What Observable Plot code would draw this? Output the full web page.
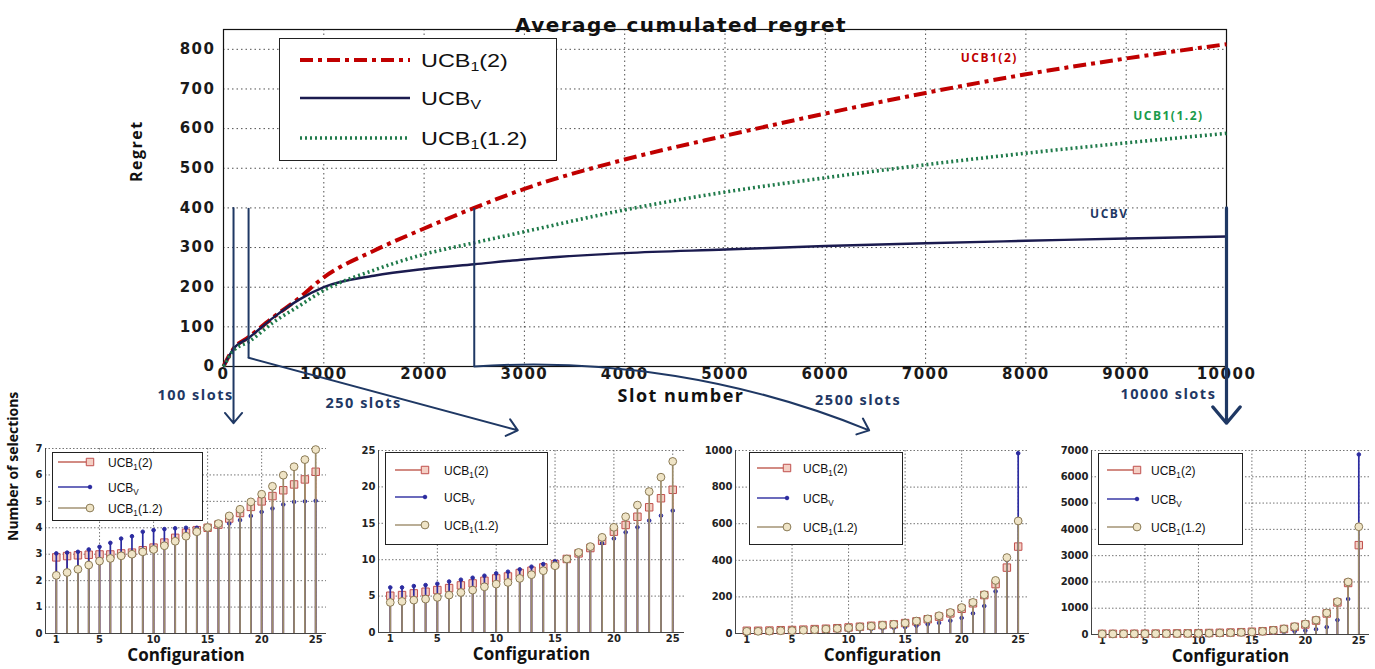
<!DOCTYPE html>
<html>
<head>
<meta charset="utf-8">
<script src="https://cdn.jsdelivr.net/npm/d3@7"></script>
<script src="https://cdn.jsdelivr.net/npm/@observablehq/plot@0.6"></script>
<style>
  body { margin: 0; background: #fff; }
  #wrap { position: relative; width: 1375px; height: 669px; overflow: hidden; background: #fff; }
  #wrap svg { position: absolute; background: transparent; max-width: none; }
  .legend { position: absolute; background: #fff; border: 1px solid #222; box-sizing: border-box; }
  .legend .lt { position: absolute; white-space: nowrap; line-height: 1; color: #111; transform-origin: left center; }
  .legend sub { font-size: 68%; vertical-align: -0.35em; line-height: 0; }
</style>
</head>
<body>
<div id="wrap"></div>
<script>
// ---------------- DATA ----------------
// Main chart: average cumulated regret vs slot number
const slots = [0, 100, 250, 500, 750, 1000, 1500, 2000, 2500, 3000, 4000, 5000, 6000, 7000, 8000, 9000, 10000];
const regretUCB1_2  = [0, 45, 74, 125, 172, 225, 292, 348, 400, 448, 522, 582, 638, 690, 737, 777, 813];
const regretUCBV    = [0, 45, 72, 124, 168, 200, 229, 246, 258, 270, 286, 295, 304, 311, 317, 323, 328];
const regretUCB1_12 = [0, 40, 62, 112, 152, 192, 243, 283, 312, 340, 395, 440, 476, 509, 538, 564, 588];
const mainXTicks = [0, 1000, 2000, 3000, 4000, 5000, 6000, 7000, 8000, 9000, 10000];
const mainYTicks = [0, 100, 200, 300, 400, 500, 600, 700, 800];

// Series names (base, subscript, tail)
const seriesBase = ["UCB", "UCB", "UCB"];
const seriesSub  = ["1", "V", "1"];
const seriesTail = ["(2)", "", "(1.2)"];
// Inline curve labels (data coordinates)
const curveLabelText = ["UCB1(2)", "UCB1(1.2)", "UCBV"];
const curveLabelX = [7635, 9421, 8832];
const curveLabelY = [777, 631, 385];

// Zoom annotations (data coordinates of the main chart)
const zoomLabelText = ["100 slots", "250 slots", "2500 slots", "10000 slots"];
const zoomLabelX = [-279, 1397, 6327, 9421];
const zoomLabelY = [-73, -93, -86, -70];
const connectorLinks = [
  {x1: 250, y1: 400, x2: 250, y2: 22},
  {x1: 2500, y1: 400, x2: 2500, y2: 0}
];
const connectorArrows = [
  {x1: 100, y1: 400, x2: 100, y2: -143},
  {x1: 250, y1: 22, x2: 2934, y2: -161}
];
const connectorCurved = [{x1: 2500, y1: 0, x2: 6437, y2: -161}];
const connectorThick = [{x1: 10000, y1: 400, x2: 10000, y2: -143}];

// Bottom charts: number of selections per configuration
const configs = [1, 2, 3, 4, 5, 6, 7, 8, 9, 10, 11, 12, 13, 14, 15, 16, 17, 18, 19, 20, 21, 22, 23, 24, 25];
const subXTicks = [1, 5, 10, 15, 20, 25];

const s100_UCB1_2  = [2.88, 2.93, 2.96, 2.98, 2.99, 2.99, 3.03, 3.06, 3.15, 3.25, 3.44, 3.62, 3.81, 3.91, 4.00, 4.12, 4.35, 4.56, 4.79, 5.00, 5.20, 5.42, 5.64, 5.83, 6.12];
const s100_UCBV    = [3.03, 3.06, 3.09, 3.18, 3.28, 3.43, 3.59, 3.68, 3.85, 3.91, 3.95, 3.98, 4.00, 4.00, 4.01, 4.12, 4.16, 4.29, 4.45, 4.60, 4.73, 4.88, 4.98, 5.00, 5.02];
const s100_UCB1_12 = [2.20, 2.31, 2.43, 2.59, 2.74, 2.84, 2.94, 3.00, 3.09, 3.18, 3.32, 3.49, 3.68, 3.85, 4.01, 4.16, 4.45, 4.70, 4.98, 5.27, 5.57, 5.99, 6.31, 6.58, 6.96];
const s100_YTicks  = [0, 1, 2, 3, 4, 5, 6, 7];

const s250_UCB1_2  = [5.05, 5.14, 5.37, 5.60, 5.83, 6.10, 6.47, 6.74, 7.10, 7.43, 7.70, 8.17, 8.49, 8.94, 9.40, 10.10, 10.87, 11.60, 12.60, 13.85, 14.77, 15.90, 17.20, 18.44, 19.60];
const s250_UCBV    = [6.19, 6.19, 6.38, 6.51, 6.70, 7.00, 7.25, 7.52, 7.80, 8.12, 8.35, 8.67, 9.04, 9.40, 9.77, 10.30, 11.10, 11.80, 12.25, 12.90, 13.76, 14.45, 15.37, 16.05, 16.74];
const s250_UCB1_12 = [4.13, 4.27, 4.45, 4.59, 4.82, 5.14, 5.50, 5.83, 6.28, 6.65, 6.88, 7.43, 7.94, 8.49, 9.17, 10.10, 11.00, 11.80, 13.07, 14.45, 15.90, 17.50, 19.36, 21.33, 23.50];
const s250_YTicks  = [0, 5, 10, 15, 20, 25];

const s2500_UCB1_2  = [15, 15, 16, 18, 19, 21, 24, 26, 29, 33, 37, 42, 46, 50, 57, 66, 78, 92, 110, 135, 165, 210, 270, 360, 475];
const s2500_UCBV    = [10, 10, 11, 12, 13, 14, 15, 16, 18, 20, 22, 25, 28, 31, 35, 42, 50, 58, 70, 85, 110, 150, 230, 400, 985];
const s2500_UCB1_12 = [12, 12, 13, 15, 16, 18, 21, 24, 27, 31, 36, 40, 45, 50, 57, 68, 80, 97, 115, 142, 170, 212, 290, 415, 615];
const s2500_YTicks  = [0, 200, 400, 600, 800, 1000];

const s10000_UCB1_2  = [25, 26, 27, 29, 31, 34, 37, 41, 45, 50, 57, 65, 75, 88, 105, 125, 160, 210, 290, 380, 530, 800, 1220, 1960, 3400];
const s10000_UCBV    = [15, 15, 16, 17, 18, 20, 22, 24, 26, 28, 31, 34, 38, 43, 50, 60, 75, 95, 120, 150, 200, 280, 550, 1350, 6850];
const s10000_UCB1_12 = [20, 21, 22, 24, 26, 28, 31, 34, 38, 43, 49, 57, 67, 80, 95, 120, 160, 215, 300, 400, 550, 820, 1250, 2000, 4100];
const s10000_YTicks  = [0, 1000, 2000, 3000, 4000, 5000, 6000, 7000];

// ---------------- STYLES ----------------
const mainColors = ["#c00000", "#1b1b4f", "#1f7a4a"];
const mainWidths = [4, 2.4, 3.6];
const mainDash = ["13,5,4,5", null, "2,3"];
const curveLabelColors = ["#c00000", "#1a9b4b", "#1f3864"];
const annotColor = "#1f3864";

const stemColors = ["#bf5a4e", "#2b2ba0", "#9c8c6a"];
const markFill = ["#f4cfc4", "#2b2ba0", "#efe4c6"];
const markStroke = ["#c0504d", "#2b2ba0", "#8a7a55"];
const markSymbol = ["square", "circle", "circle"];
const markR = [4.2, 1.8, 3.9];

const wrap = d3.select("#wrap");
function place(node, left, top) {
  node.style.left = left + "px";
  node.style.top = top + "px";
  wrap.node().appendChild(node);
}
function fmt(d) { return String(d); }

// ---------------- MAIN CHART ----------------
const mainValues = [regretUCB1_2, regretUCBV, regretUCB1_12];
const gridStyle = {stroke: "#333", strokeOpacity: 0.85, strokeDasharray: "1.5,3", strokeWidth: 1};

const main = Plot.plot({
  width: 1375, height: 440,
  marginLeft: 223, marginRight: 149, marginTop: 29, marginBottom: 74,
  style: "font-family:'DejaVu Sans';font-size:15px;font-weight:bold;letter-spacing:1.5px;color:#1a1a1a;background:transparent;overflow:visible;",
  x: {domain: [0, 10000], ticks: mainXTicks, tickFormat: fmt, tickSize: 0, tickPadding: 2, label: null},
  y: {domain: [0, 850], ticks: mainYTicks, tickFormat: fmt, tickSize: 0, tickPadding: 8, label: null},
  marks: [
    Plot.gridX(mainXTicks.slice(1, -1), gridStyle),
    Plot.gridY(mainYTicks.slice(1), gridStyle),
    Plot.frame({stroke: "#111", strokeWidth: 1.2}),
    ...mainValues.map((vals, i) => Plot.line(slots, {
      x: slots, y: vals, stroke: mainColors[i], strokeWidth: mainWidths[i],
      strokeDasharray: mainDash[i], strokeLinecap: "butt", curve: "monotone-x"
    })),
    Plot.text(curveLabelText, {x: curveLabelX, y: curveLabelY, text: curveLabelText,
      fill: (d, i) => curveLabelColors[i], fontFamily: "Open Sans", fontSize: 12, fontWeight: "bold"}),
    Plot.link(connectorLinks, {x1: "x1", y1: "y1", x2: "x2", y2: "y2", stroke: annotColor, strokeWidth: 2}),
    Plot.arrow(connectorArrows, {x1: "x1", y1: "y1", x2: "x2", y2: "y2", stroke: annotColor, strokeWidth: 2, headLength: 10, headAngle: 80}),
    Plot.arrow(connectorCurved, {x1: "x1", y1: "y1", x2: "x2", y2: "y2", bend: 13, stroke: annotColor, strokeWidth: 2, headLength: 10, headAngle: 80}),
    Plot.arrow(connectorThick, {x1: "x1", y1: "y1", x2: "x2", y2: "y2", stroke: annotColor, strokeWidth: 3.2, headLength: 10, headAngle: 80}),
    Plot.text(zoomLabelText, {x: zoomLabelX, y: zoomLabelY, text: zoomLabelText, fill: annotColor,
      fontFamily: "Open Sans", fontSize: 14.5, fontWeight: "bold"}),
    Plot.text(["Average cumulated regret"], {frameAnchor: "top", dy: -12, dx: -44, fontSize: 20, fontWeight: "bold", fill: "#111"}),
    Plot.text(["Slot number"], {frameAnchor: "bottom", dy: 35, dx: -44, fontFamily: "Open Sans", fontSize: 18, fontWeight: "bold", fill: "#111"}),
    Plot.text(["Regret"], {frameAnchor: "left", rotate: -90, dx: -87, dy: -16, fontFamily: "Open Sans", fontSize: 16, fontWeight: "bold", fill: "#111"})
  ]
});
place(main, 0, 0);

// ---------------- LEGENDS ----------------
function labelHTML(i) {
  return seriesBase[i] + "<sub>" + seriesSub[i] + "</sub>" + seriesTail[i];
}
function legend({left, top, width, height, rowsY, x1, x2, textX, font, size, scale, kind}) {
  const div = wrap.append("div").attr("class", "legend")
    .style("left", left + "px").style("top", top + "px")
    .style("width", width + "px").style("height", height + "px");
  const svg = div.append("svg").attr("width", width).attr("height", height)
    .style("left", "-1px").style("top", "-1px");
  rowsY.forEach((y, i) => {
    if (kind === "main") {
      svg.append("line").attr("x1", x1).attr("x2", x2).attr("y1", y).attr("y2", y)
        .attr("stroke", mainColors[i]).attr("stroke-width", mainWidths[i])
        .attr("stroke-dasharray", mainDash[i]);
    } else {
      svg.append("line").attr("x1", x1).attr("x2", x2).attr("y1", y).attr("y2", y)
        .attr("stroke", stemColors[i]).attr("stroke-width", 1.4);
      const sym = d3.symbol(markSymbol[i] === "square" ? d3.symbolSquare : d3.symbolCircle, Math.PI * markR[i] * markR[i]);
      svg.append("path").attr("d", sym()).attr("transform", `translate(${x2},${y})`)
        .attr("fill", markFill[i]).attr("stroke", markStroke[i]).attr("stroke-width", 1);
    }
    div.append("div").attr("class", "lt").html(labelHTML(i))
      .style("left", textX + "px").style("top", y + "px")
      .style("font-family", font).style("font-size", size + "px")
      .style("transform", `translateY(-50%) scaleX(${scale})`);
  });
}

legend({left: 279, top: 38, width: 278, height: 123, rowsY: [22, 60, 100], x1: 21, x2: 131, textX: 141,
  font: "'Liberation Sans'", size: 18, scale: 1.3, kind: "main"});

// ---------------- BOTTOM CHARTS ----------------
function stemChart({left, plotW, marginTop, marginBottom, yDomain, yTicks, series, yLabel}) {
  const marginLeft = 40, marginRight = 6;
  const marks = [
    Plot.gridY(yTicks.slice(1), {stroke: "#666", strokeOpacity: 0.9, strokeDasharray: "1.5,2"}),
    Plot.gridX(subXTicks.slice(1), {stroke: "#666", strokeOpacity: 0.9, strokeDasharray: "1.5,2"}),
    Plot.ruleY([yDomain[0]], {stroke: "#444"}),
    Plot.ruleX([0], {stroke: "#444"})
  ];
  series.forEach((vals, i) => {
    marks.push(Plot.ruleX(configs, {x: configs, y1: d => 0, y2: vals, stroke: stemColors[i], strokeWidth: 1.7}));
    marks.push(Plot.dot(configs, {x: configs, y: vals, symbol: markSymbol[i], r: markR[i],
      fill: markFill[i], stroke: markStroke[i], strokeWidth: 1}));
  });
  marks.push(Plot.text(["Configuration"], {frameAnchor: "bottom", dy: 27, fontFamily: "Open Sans",
    fontSize: 17, fontWeight: "bold", fill: "#111"}));
  if (yLabel) marks.push(Plot.text([yLabel], {frameAnchor: "left", rotate: -90, dx: -32,
    fontFamily: "Open Sans", fontSize: 14, fontWeight: "bold", fill: "#111"}));
  const svg = Plot.plot({
    width: marginLeft + plotW + marginRight, height: 229,
    marginLeft, marginRight, marginTop, marginBottom,
    style: "font-family:'DejaVu Sans';font-size:10px;font-weight:bold;color:#222;background:transparent;overflow:visible;",
    x: {domain: [0, 26], ticks: subXTicks, tickFormat: fmt, tickSize: 0, tickPadding: 2, label: null},
    y: {domain: yDomain, ticks: yTicks, tickFormat: fmt, tickSize: 0, tickPadding: 3, label: null},
    marks
  });
  place(svg, left, 440);
}

stemChart({left: 5, plotW: 281, marginTop: 8, marginBottom: 36, yDomain: [0, 7], yTicks: s100_YTicks,
  series: [s100_UCB1_2, s100_UCBV, s100_UCB1_12], yLabel: "Number of selections"});
stemChart({left: 338, plotW: 306, marginTop: 10, marginBottom: 37, yDomain: [0, 25], yTicks: s250_YTicks,
  series: [s250_UCB1_2, s250_UCBV, s250_UCB1_12]});
stemChart({left: 695, plotW: 294, marginTop: 10, marginBottom: 36, yDomain: [0, 1000], yTicks: s2500_YTicks,
  series: [s2500_UCB1_2, s2500_UCBV, s2500_UCB1_12]});
stemChart({left: 1051, plotW: 278, marginTop: 10, marginBottom: 35, yDomain: [0, 7000], yTicks: s10000_YTicks,
  series: [s10000_UCB1_2, s10000_UCBV, s10000_UCB1_12]});

const subLegendFont = "'Liberation Sans'";
legend({left: 52, top: 452, width: 151, height: 69, rowsY: [10, 35, 56], x1: 6, x2: 38, textX: 55,
  font: subLegendFont, size: 12, scale: 1, kind: "sub"});
legend({left: 385, top: 452, width: 163, height: 93, rowsY: [18, 45, 73], x1: 10, x2: 40, textX: 58,
  font: subLegendFont, size: 12, scale: 1, kind: "sub"});
legend({left: 749, top: 452, width: 154, height: 93, rowsY: [16, 46, 75], x1: 8, x2: 38, textX: 53,
  font: subLegendFont, size: 12, scale: 1, kind: "sub"});
legend({left: 1098, top: 453, width: 145, height: 92, rowsY: [17, 46, 74], x1: 9, x2: 39, textX: 52,
  font: subLegendFont, size: 12, scale: 1, kind: "sub"});
</script>
</body>
</html>
